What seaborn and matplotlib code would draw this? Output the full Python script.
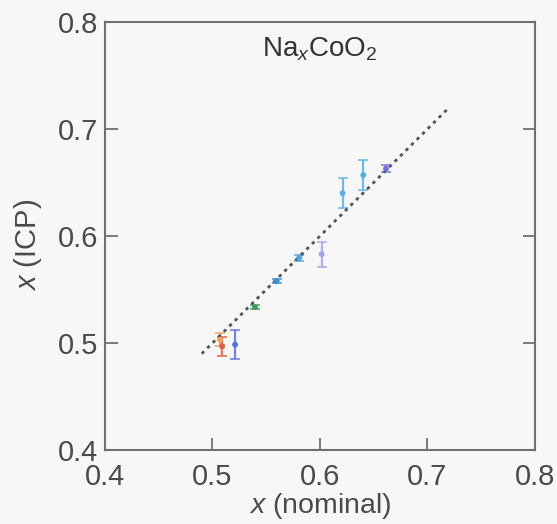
import matplotlib
matplotlib.use("Agg")
import matplotlib.pyplot as plt
import seaborn as sns
import pandas as pd

# Data
x_nominal = [0.507, 0.509, 0.521, 0.5395, 0.5597, 0.5807, 0.6015, 0.621, 0.6403, 0.6614]
x_icp     = [0.503, 0.497, 0.4985, 0.5335, 0.558, 0.5795, 0.583, 0.640, 0.657, 0.663]
x_err     = [0.006, 0.009, 0.0135, 0.002, 0.002, 0.003, 0.0115, 0.014, 0.014, 0.003]
colors    = ["#f2a05a", "#e8583a", "#5c6fe0", "#3d9a5e", "#3a8fd6", "#4aa3e6",
             "#a2a2f2", "#58b0ea", "#55aee8", "#7272e2"]
fit_x = [0.49, 0.72]
fit_y = [0.49, 0.72]
ticks = [0.4, 0.5, 0.6, 0.7, 0.8]

sns.set_style("ticks")
plt.rcParams['font.family'] = ['Liberation Sans', 'DejaVu Sans']
plt.rcParams['mathtext.fontset'] = 'custom'
plt.rcParams['mathtext.it'] = 'Liberation Sans:italic'
plt.rcParams['mathtext.rm'] = 'Liberation Sans'

fig = plt.figure(figsize=(5.57, 5.24), dpi=100, facecolor="#f7f7f7")
ax = fig.add_axes([0.1885, 0.1412, 0.772, 0.8168])
ax.set_facecolor("#f7f7f7")

df = pd.DataFrame({"xn": x_nominal, "xi": x_icp, "err": x_err, "c": colors})
fit = pd.DataFrame({"x": fit_x, "y": fit_y})

sns.lineplot(data=fit, x="x", y="y", ax=ax, color="#555555", lw=2.0,
             linestyle=(0, (1.2, 1.6)), zorder=3)

for _, r in df.iterrows():
    ax.errorbar(r.xn, r.xi, yerr=r.err, fmt="none", ecolor=r.c, elinewidth=1.6,
                capsize=3.5, capthick=1.2, alpha=0.85, zorder=2)
sns.scatterplot(data=df, x="xn", y="xi", hue="c", palette={c: c for c in colors},
                ax=ax, s=18, marker="o", edgecolor="none", legend=False, zorder=4)

ax.set_xlim(0.4, 0.8)
ax.set_ylim(0.4, 0.8)
ax.set_xticks(ticks)
ax.set_yticks(ticks)
ax.set_xticklabels([f"{t:.1f}" for t in ticks])
ax.set_yticklabels([f"{t:.1f}" for t in ticks])
ax.tick_params(direction="in", length=9, width=1.3, color="#707070",
               labelsize=21, labelcolor="#4a4a4a", right=True, top=False)
ax.tick_params(axis="y", pad=5)
ax.tick_params(axis="x", pad=9)

for s in ax.spines.values():
    s.set_color("#707070")
    s.set_linewidth(1.5)

ax.set_xlabel("$x$ (nominal)", fontsize=20.5, color="#4a4a4a", labelpad=0)
ax.set_ylabel("$x$ (ICP)", fontsize=21, color="#4a4a4a")
ax.yaxis.set_label_coords(-0.143, 0.479)
ax.text(0.5, 0.937, r"Na$_x$CoO$_2$", transform=ax.transAxes, ha="center", va="center",
        fontsize=20, color="#333333")

fig.savefig("out.png", dpi=100, facecolor=fig.get_facecolor())
